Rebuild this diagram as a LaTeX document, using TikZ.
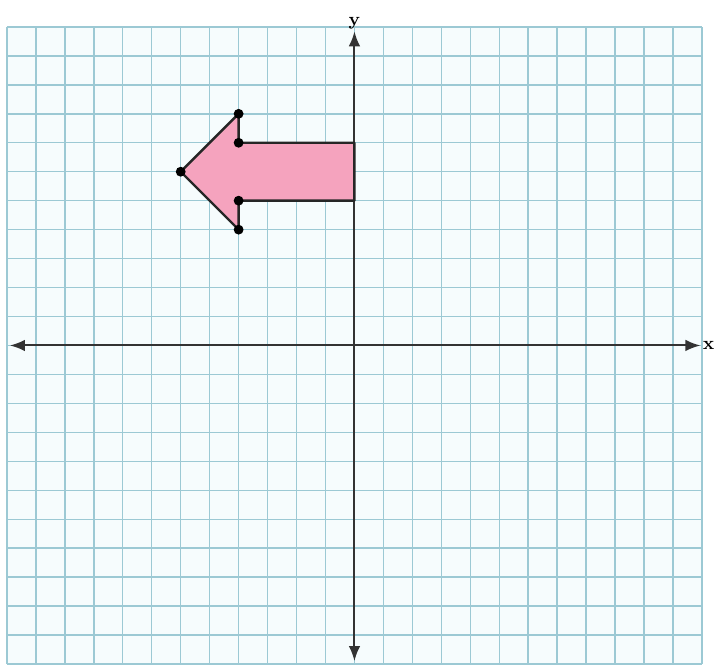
\documentclass[tikz,border=0pt]{standalone}
\usepackage{tikz}
\usetikzlibrary{arrows.meta,positioning}
\usepackage{xcolor}
\definecolor{gridteal}{HTML}{9CC9D4}
\definecolor{paperice}{HTML}{F6FCFD}
\definecolor{shapepink}{HTML}{F5A3BE}
\tikzset{
  gridline/.style={
    draw=gridteal,
    line width=0.7pt
  },
  axisline/.style={
    {Latex[length=2.6mm,width=2mm]}-{Latex[length=2.6mm,width=2mm]},
    line width=1pt,
    draw=black!80
  },
  arrowshape/.style={
    draw=black!85,
    fill=shapepink,
    line width=1.2pt,
    line join=round
  },
  vertexdot/.style={
    circle,
    fill=black,
    inner sep=0pt,
    minimum size=1.7mm
  },
  axislabel/.style={
    font=\small\bfseries,
    inner sep=1pt
  }
}
\begin{document}
\begin{tikzpicture}[x=0.5cm,y=0.5cm]
\useasboundingbox (-12.24,-11.07) rectangle (12.45,11.93);
% paper and grid
\fill[paperice] (-12,-11) rectangle (12,11);
\draw[gridline, step=0.5cm] (-12,-11) grid (12,11);
% axes
\coordinate (xl) at (-11.9,0);
\coordinate (xr) at (11.95,0);
\coordinate (yb) at (0,-10.9);
\coordinate (yt) at (0,10.85);
\draw[axisline] (xl) -- (xr);
\draw[axisline] (yb) -- (yt);
\node[axislabel, right=0pt of xr] (xlab) {x};
\node[axislabel, above=0pt of yt] (ylab) {y};
% arrow figure
\coordinate (tip) at (-6,6);
\coordinate (barbtop) at (-4,8);
\coordinate (intop) at (-4,7);
\coordinate (endtop) at (0,7);
\coordinate (endbot) at (0,5);
\coordinate (inbot) at (-4,5);
\coordinate (barbbot) at (-4,4);
\draw[arrowshape] (tip) -- (barbtop) -- (intop) -- (endtop) -- (endbot)
  -- (inbot) -- (barbbot) -- cycle;
\foreach \p in {tip,barbtop,intop,inbot,barbbot}
  \node[vertexdot] (dot-\p) at (\p) {};
\end{tikzpicture}
\end{document}
